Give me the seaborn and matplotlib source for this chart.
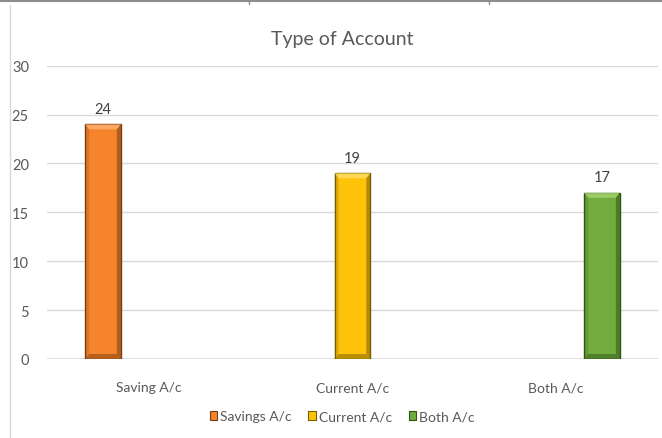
import matplotlib
matplotlib.use("Agg")
import matplotlib.pyplot as plt
from matplotlib.lines import Line2D
from matplotlib.patches import Polygon
import seaborn as sns
import pandas as pd

# Chart content
title = "Type of Account"
categories = ["Saving A/c", "Current A/c", "Both A/c"]
series = ["Savings A/c", "Current A/c", "Both A/c"]
counts = [24, 19, 17]
y_ticks = [0, 5, 10, 15, 20, 25, 30]

fills = ["#F5842C", "#FFC20A", "#72AC3E"]
edges = ["#7A3D12", "#7A5C00", "#2F5418"]
tops = ["#FFB070", "#FFE066", "#A5D46E"]

sns.set_theme(style="white")
plt.rcParams["font.family"] = ["Lato", "DejaVu Sans"]

df = pd.DataFrame({"category": categories, "series": series, "count": counts})

fig = plt.figure(figsize=(6.62, 4.39), dpi=100)
fig.patch.set_facecolor("white")
ax = fig.add_axes([47 / 662, 79 / 439, 611 / 662, 293.3 / 439])

sns.barplot(
    data=df, x="category", y="count", hue="series",
    order=categories, hue_order=series, palette=fills,
    width=0.675, gap=0.22, dodge=True, ax=ax, zorder=3,
    saturation=1, err_kws={"linewidth": 0},
)

ax.set_xlim(-0.5, 2.5)
ax.set_ylim(0, 30)
ax.set_yticks(y_ticks)
ax.set_xlabel("")
ax.set_ylabel("")
ax.yaxis.grid(True, color="#D9D9D9", linewidth=1.0, zorder=0)
ax.xaxis.grid(False)
for s in ax.spines.values():
    s.set_visible(False)
ax.axhline(0, color="#D9D9D9", linewidth=1.2, zorder=1)
ax.tick_params(axis="y", length=0, pad=13, labelsize=10.5, labelcolor="#595959")
ax.tick_params(axis="x", length=0, pad=16, labelsize=10, labelcolor="#595959")

# Bevelled bar look: dark outline, light top facet, shaded sides
px_y = 30.0 / 293.3
for i, container in enumerate(ax.containers):
    for bar in container:
        bar.set_edgecolor(edges[i])
        bar.set_linewidth(1.0)
        x0, y0 = bar.get_x(), bar.get_y()
        w, h = bar.get_width(), bar.get_height()
        bx = 0.02
        by = 5 * px_y
        top = Polygon([[x0, y0 + h], [x0 + w, y0 + h], [x0 + w - bx, y0 + h - by], [x0 + bx, y0 + h - by]],
                      closed=True, facecolor=tops[i], edgecolor="none", zorder=4, alpha=0.8)
        right = Polygon([[x0 + w, y0 + h], [x0 + w, y0], [x0 + w - bx, y0 + by], [x0 + w - bx, y0 + h - by]],
                        closed=True, facecolor=edges[i], edgecolor="none", zorder=4, alpha=0.55)
        left = Polygon([[x0, y0 + h], [x0, y0], [x0 + bx, y0 + by], [x0 + bx, y0 + h - by]],
                       closed=True, facecolor=edges[i], edgecolor="none", zorder=4, alpha=0.2)
        bottom = Polygon([[x0, y0], [x0 + w, y0], [x0 + w - bx, y0 + by], [x0 + bx, y0 + by]],
                         closed=True, facecolor=edges[i], edgecolor="none", zorder=4, alpha=0.5)
        for p in (top, right, left, bottom):
            ax.add_patch(p)
    ax.bar_label(container, fmt="%d", padding=6, fontsize=10.5, color="#404040")

sns.move_legend(
    ax, "center", bbox_to_anchor=(0.483, -0.196), ncol=3, frameon=False,
    title=None, fontsize=10, handlelength=0.55, handleheight=0.55,
    handletextpad=0.2, columnspacing=1.2,
)
leg = ax.get_legend()
for t in leg.get_texts():
    t.set_color("#595959")
for h, ec in zip(leg.legend_handles, edges):
    h.set_edgecolor(ec)
    h.set_linewidth(0.8)

fig.text(342 / 662, 1 - 40 / 439, title, ha="center", va="center", fontsize=14, color="#595959")

# Surrounding table rules
fig.add_artist(Line2D([0, 1], [1 - 1.5 / 439] * 2, color="#8C8C8C", linewidth=1.5))
for xp in (249, 489):
    fig.add_artist(Line2D([xp / 662] * 2, [1, 1 - 5 / 439], color="#8C8C8C", linewidth=1.0))
fig.add_artist(Line2D([9.5 / 662] * 2, [1 - 6 / 439, 0], color="#D9D9D9", linewidth=1.0))

fig.savefig("out.png", dpi=100, facecolor="white")
